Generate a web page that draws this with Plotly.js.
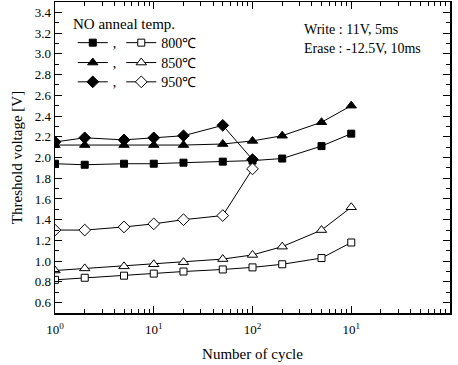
<!DOCTYPE html>
<html>
<head>
<meta charset="utf-8">
<script src="https://cdn.plot.ly/plotly-3.0.1.min.js"></script>
<style>html,body{margin:0;padding:0;background:#fff;}#chart{width:458px;height:365px;}</style>
</head>
<body>
<div id="chart"></div>
<script>
// Data
const cycles = [1, 2, 5, 10, 20, 50, 100, 200, 500, 1000];
const write800 = [1.94, 1.93, 1.94, 1.94, 1.95, 1.96, 1.97, 1.99, 2.11, 2.23];
const erase800 = [0.82, 0.84, 0.86, 0.88, 0.90, 0.92, 0.94, 0.97, 1.03, 1.18];
const write850 = [2.12, 2.12, 2.12, 2.12, 2.12, 2.13, 2.16, 2.21, 2.34, 2.50];
const erase850 = [0.91, 0.93, 0.95, 0.97, 0.99, 1.02, 1.06, 1.14, 1.30, 1.52];
const cycles950 = [1, 2, 5, 10, 20, 50, 100];
const write950 = [2.15, 2.19, 2.17, 2.19, 2.21, 2.31, 1.98];
const erase950 = [1.30, 1.30, 1.33, 1.36, 1.40, 1.44, 1.89];
const tempLabels = ['800℃', '850℃', '950℃'];
const xTickVals = [1, 10, 100, 1000, 10000];
const xTickText = ['10<sup>0</sup>', '10<sup>1</sup>', '10<sup>2</sup>', '10<sup>1</sup>', '10<sup>4</sup>'];

const FONT = 'Liberation Serif, Times New Roman, serif';
const line = {color: '#000', width: 1};

function tr(x, y, name, symbol, size, open, legend) {
  return {x: x, y: y, name: name, mode: 'lines+markers', type: 'scatter',
    line: line, legend: legend,
    marker: {symbol: symbol, size: size, color: open ? '#fff' : '#000',
      line: {color: '#000', width: 1}}};
}

const data = [
  tr(cycles, write800, ',', 'square', 7, false, 'legend'),
  tr(cycles, erase800, tempLabels[0], 'square', 7, true, 'legend'),
  tr(cycles, write850, ',', 'triangle-up', 9, false, 'legend2'),
  tr(cycles, erase850, tempLabels[1], 'triangle-up', 9, true, 'legend2'),
  tr(cycles950, write950, ',', 'diamond', 9, false, 'legend3'),
  tr(cycles950, erase950, tempLabels[2], 'diamond', 9, true, 'legend3')
];

// minor tick positions for the log axis
const minorVals = [];
for (let d = 1; d < 10000; d *= 10) for (let k = 2; k <= 9; k++) minorVals.push(d * k);

function leg(y) {
  return {x: 0.045, y: y, xanchor: 'left', yanchor: 'middle', orientation: 'h',
    bgcolor: 'rgba(0,0,0,0)', font: {family: FONT, size: 14, color: '#000'},
    itemwidth: 30, tracegroupgap: 0, traceorder: 'normal'};
}

const layout = {
  width: 458, height: 365,
  margin: {l: 55, r: 8, t: 2, b: 52},
  paper_bgcolor: '#fff', plot_bgcolor: '#fff',
  font: {family: FONT, size: 12, color: '#000'},
  showlegend: true,
  legend: leg(0.868),
  legend2: leg(0.804),
  legend3: leg(0.742),
  xaxis: {
    type: 'log', range: [0, 4], tickmode: 'array', tickvals: xTickVals, ticktext: xTickText,
    ticks: 'inside', ticklen: 7, tickwidth: 1, tickcolor: '#000', ticklabelstandoff: 4,
    showline: true, linecolor: '#000', linewidth: 1.5, mirror: 'ticks', showgrid: false, zeroline: false,
    minor: {tickmode: 'array', tickvals: minorVals, ticks: 'inside', ticklen: 4, tickcolor: '#000', showgrid: false},
    tickfont: {family: FONT, size: 13},
    title: {text: 'Number of cycle', font: {family: FONT, size: 15}, standoff: 12}
  },
  yaxis: {
    range: [0.5, 3.5], tick0: 0.6, dtick: 0.2, tickformat: '.1f',
    ticks: 'inside', ticklen: 7, tickwidth: 1, tickcolor: '#000',
    showline: true, linecolor: '#000', linewidth: 1.5, mirror: 'ticks', showgrid: false, zeroline: false,
    minor: {dtick: 0.1, ticks: 'inside', ticklen: 4, tickcolor: '#000', showgrid: false},
    tickfont: {family: FONT, size: 13},
    title: {text: 'Threshold voltage [V]', font: {family: FONT, size: 15}, standoff: 8}
  },
  annotations: [
    {xref: 'paper', yref: 'paper', x: 0.04, y: 0.93, xanchor: 'left', yanchor: 'middle', showarrow: false,
      text: 'NO anneal temp.', font: {family: FONT, size: 15, color: '#000'}},
    {xref: 'paper', yref: 'paper', x: 0.625, y: 0.91, xanchor: 'left', yanchor: 'middle', showarrow: false,
      text: 'Write : 11V, 5ms', font: {family: FONT, size: 14, color: '#000'}},
    {xref: 'paper', yref: 'paper', x: 0.625, y: 0.852, xanchor: 'left', yanchor: 'middle', showarrow: false,
      text: 'Erase : -12.5V, 10ms', font: {family: FONT, size: 14, color: '#000'}}
  ]
};

Plotly.newPlot('chart', data, layout, {staticPlot: true, displayModeBar: false});
</script>
</body>
</html>
